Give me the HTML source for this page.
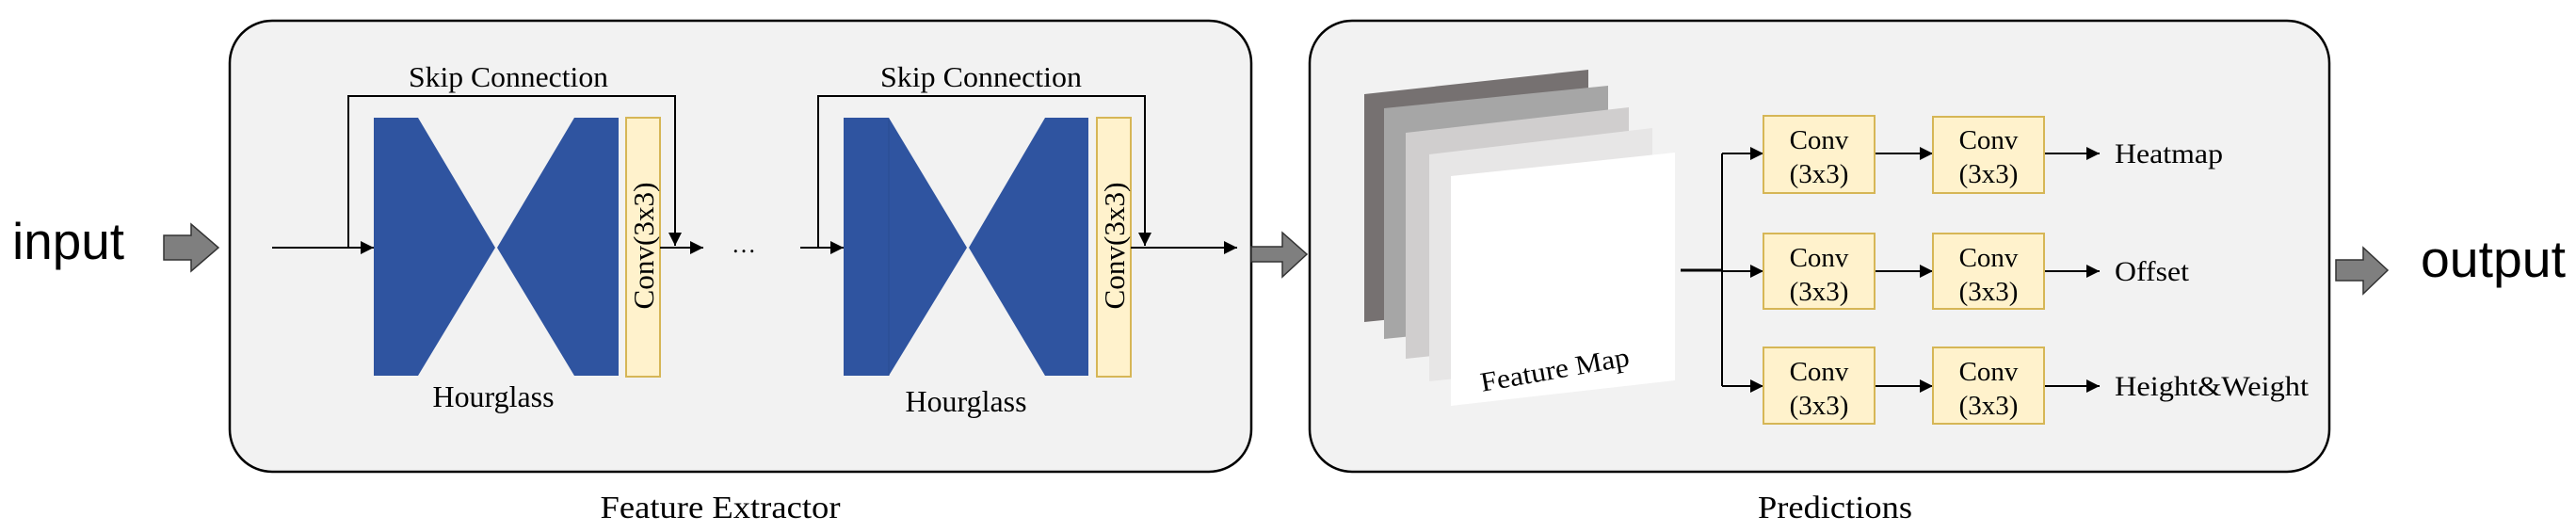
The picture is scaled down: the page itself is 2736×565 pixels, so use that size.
<!DOCTYPE html>
<html><head><meta charset="utf-8"><style>
html,body{margin:0;padding:0;background:#fff;}
svg{display:block;}
.s{font-family:"Liberation Serif",serif;fill:#000;}
.a{font-family:"Liberation Sans",sans-serif;fill:#000;}
</style></head><body>
<svg width="2736" height="565" viewBox="0 0 2736 565" xmlns="http://www.w3.org/2000/svg">
<defs>
<marker id="ahs" viewBox="0 0 10 10" markerWidth="14" markerHeight="14" refX="10" refY="5" orient="auto" markerUnits="userSpaceOnUse">
<path d="M0,0 L10,5 L0,10 Z" fill="#000"/></marker>
</defs>
<rect width="2736" height="565" fill="#fff"/>
<!-- input -->
<text class="a" x="13" y="275" font-size="55" textLength="119" lengthAdjust="spacingAndGlyphs">input</text>
<path d="M174,250 H203 V238 L232,263 L203,288 V276 H174 Z" fill="#7f7f7f" stroke="#333" stroke-width="1.5"/>
<!-- left box -->
<rect x="244" y="22" width="1085" height="479" rx="45" ry="45" fill="#f2f2f2" stroke="#000" stroke-width="2.5"/>
<!-- block 1 -->
<text class="s" x="434" y="92" font-size="31" textLength="212" lengthAdjust="spacingAndGlyphs">Skip Connection</text>
<polyline points="370,263 370,102 717,102 717,261" fill="none" stroke="#000" stroke-width="2" marker-end="url(#ahs)"/>
<line x1="289" y1="263" x2="397" y2="263" stroke="#000" stroke-width="2" marker-end="url(#ahs)"/>
<polygon points="397,125 444,125 526,263 444,399 397,399" fill="#2f54a0"/>
<polygon points="657,125 610,125 528,263 610,399 657,399" fill="#2f54a0"/>
<rect x="665" y="125" width="36" height="275" fill="#fff2cc" stroke="#d6b656" stroke-width="2"/>
<text class="s" transform="translate(694,261) rotate(-90)" text-anchor="middle" font-size="31" textLength="135" lengthAdjust="spacingAndGlyphs">Conv(3x3)</text>
<line x1="701" y1="263" x2="747" y2="263" stroke="#000" stroke-width="2" marker-end="url(#ahs)"/>
<text class="s" x="790" y="268" font-size="26" text-anchor="middle">…</text>
<text class="s" x="524" y="432" font-size="32" textLength="129" lengthAdjust="spacingAndGlyphs" text-anchor="middle">Hourglass</text>
<!-- block 2 -->
<text class="s" x="935" y="92" font-size="31" textLength="214" lengthAdjust="spacingAndGlyphs">Skip Connection</text>
<polyline points="869,263 869,102 1216,102 1216,261" fill="none" stroke="#000" stroke-width="2" marker-end="url(#ahs)"/>
<line x1="850" y1="263" x2="896" y2="263" stroke="#000" stroke-width="2" marker-end="url(#ahs)"/>
<polygon points="896,125 944,125 1027,263 944,399 896,399" fill="#2f54a0"/>
<line x1="944" y1="126" x2="944" y2="399" stroke="#2a4c92" stroke-width="1"/>
<polygon points="1156,125 1110,125 1029,263 1110,399 1156,399" fill="#2f54a0"/>
<rect x="1165" y="125" width="36" height="275" fill="#fff2cc" stroke="#d6b656" stroke-width="2"/>
<text class="s" transform="translate(1194,261) rotate(-90)" text-anchor="middle" font-size="31" textLength="135" lengthAdjust="spacingAndGlyphs">Conv(3x3)</text>
<line x1="1201" y1="263" x2="1314" y2="263" stroke="#000" stroke-width="2" marker-end="url(#ahs)"/>
<text class="s" x="1026" y="437" font-size="32" textLength="129" lengthAdjust="spacingAndGlyphs" text-anchor="middle">Hourglass</text>
<text class="s" x="765" y="550" font-size="34" textLength="255" lengthAdjust="spacingAndGlyphs" text-anchor="middle">Feature Extractor</text>
<!-- mid arrow -->
<path d="M1329,262 H1362 V247 L1388,270 L1362,294 V278 H1329 Z" fill="#7f7f7f" stroke="#333" stroke-width="1.5"/>
<!-- right box -->
<rect x="1391" y="22" width="1083" height="479" rx="45" ry="45" fill="#f2f2f2" stroke="#000" stroke-width="2.5"/>
<!-- feature map stack -->
<polygon points="1449,100 1687,74 1687,318 1449,342" fill="#767171"/>
<polygon points="1470,115 1708,91 1708,336 1470,360" fill="#a6a6a6"/>
<polygon points="1493,141 1730,114 1730,356 1493,381" fill="#d0cece"/>
<polygon points="1518,164 1755,136 1755,380 1518,405" fill="#e7e6e6"/>
<polygon points="1541,187 1779,162 1779,404 1541,431" fill="#ffffff"/>
<text class="s" transform="translate(1653,402) rotate(-10)" text-anchor="middle" font-size="29" textLength="160" lengthAdjust="spacingAndGlyphs">Feature Map</text>
<!-- branches -->
<line x1="1785" y1="287" x2="1829" y2="287" stroke="#000" stroke-width="3"/>
<line x1="1829" y1="163" x2="1829" y2="410" stroke="#000" stroke-width="2"/>
<g stroke="#000" stroke-width="2" marker-end="url(#ahs)">
<line x1="1829" y1="163" x2="1873" y2="163"/>
<line x1="1829" y1="288" x2="1873" y2="288"/>
<line x1="1829" y1="410" x2="1873" y2="410"/>
<line x1="1992" y1="163" x2="2053" y2="163"/>
<line x1="1992" y1="288" x2="2053" y2="288"/>
<line x1="1992" y1="410" x2="2053" y2="410"/>
<line x1="2171" y1="163" x2="2230" y2="163"/>
<line x1="2171" y1="288" x2="2230" y2="288"/>
<line x1="2171" y1="410" x2="2230" y2="410"/>
</g>
<g fill="#fff2cc" stroke="#d6b656" stroke-width="2">
<rect x="1873" y="123" width="118" height="82"/>
<rect x="2053" y="124" width="118" height="81"/>
<rect x="1873" y="248" width="118" height="80"/>
<rect x="2053" y="248" width="118" height="80"/>
<rect x="1873" y="369" width="118" height="81"/>
<rect x="2053" y="369" width="118" height="81"/>
</g>
<g class="s" font-size="29" text-anchor="middle">
<text x="1932" y="158">Conv</text><text x="1932" y="194">(3x3)</text>
<text x="2112" y="158">Conv</text><text x="2112" y="194">(3x3)</text>
<text x="1932" y="283">Conv</text><text x="1932" y="319">(3x3)</text>
<text x="2112" y="283">Conv</text><text x="2112" y="319">(3x3)</text>
<text x="1932" y="404">Conv</text><text x="1932" y="440">(3x3)</text>
<text x="2112" y="404">Conv</text><text x="2112" y="440">(3x3)</text>
</g>
<text class="s" x="2246" y="173" font-size="30" textLength="115" lengthAdjust="spacingAndGlyphs">Heatmap</text>
<text class="s" x="2246" y="298" font-size="30" textLength="79" lengthAdjust="spacingAndGlyphs">Offset</text>
<text class="s" x="2246" y="420" font-size="30" textLength="206" lengthAdjust="spacingAndGlyphs">Height&amp;Weight</text>
<text class="s" x="1949" y="550" font-size="34" textLength="164" lengthAdjust="spacingAndGlyphs" text-anchor="middle">Predictions</text>
<!-- output -->
<path d="M2481,276 H2510 V263 L2536,287 L2510,312 V298 H2481 Z" fill="#7f7f7f" stroke="#333" stroke-width="1.5"/>
<text class="a" x="2571" y="294" font-size="55" textLength="154" lengthAdjust="spacingAndGlyphs">output</text>
</svg>
</body></html>
